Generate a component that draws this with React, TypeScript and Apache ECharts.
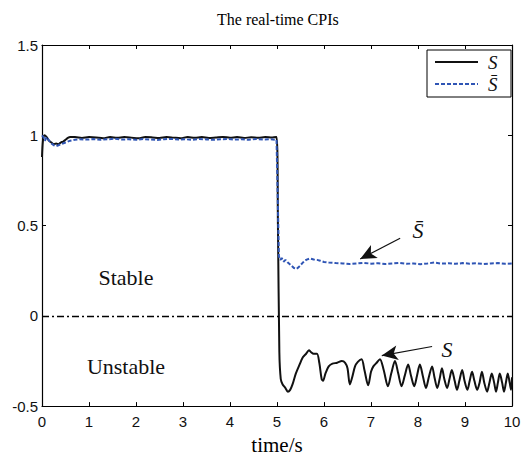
import React, { useEffect, useRef } from "react";
import * as echarts from "echarts";

const xTicks = [0, 1, 2, 3, 4, 5, 6, 7, 8, 9, 10];
const yTicks = [-0.5, 0, 0.5, 1, 1.5];
const seriesNames = ["S", "S\u0304"];

const sData: [number, number][] = [
  [0, 0.88], [0.02, 0.97], [0.05, 1.0], [0.1, 0.99], [0.15, 0.97], [0.2, 0.96], [0.25, 0.95],
  [0.3, 0.955], [0.35, 0.95], [0.4, 0.96], [0.45, 0.965], [0.5, 0.975], [0.55, 0.985], [0.6, 0.99],
  [0.7, 0.99], [0.85, 0.985], [1.0, 0.99], [1.15, 0.988], [1.3, 0.984], [1.45, 0.99], [1.6, 0.986],
  [1.75, 0.99], [1.9, 0.987], [2.05, 0.983], [2.2, 0.99], [2.35, 0.988], [2.5, 0.985], [2.65, 0.99],
  [2.8, 0.987], [2.95, 0.984], [3.1, 0.99], [3.25, 0.986], [3.4, 0.99], [3.55, 0.985], [3.7, 0.988],
  [3.85, 0.991], [4.0, 0.986], [4.15, 0.99], [4.3, 0.985], [4.45, 0.989], [4.6, 0.986], [4.75, 0.99],
  [4.9, 0.988], [4.99, 0.99], [5.02, 0.5], [5.05, -0.2], [5.08, -0.35], [5.12, -0.38], [5.18, -0.4],
  [5.23, -0.42], [5.28, -0.41], [5.33, -0.38], [5.4, -0.32], [5.48, -0.27], [5.55, -0.23], [5.62, -0.21],
  [5.68, -0.19], [5.72, -0.2], [5.78, -0.21], [5.85, -0.21], [5.9, -0.26], [5.95, -0.35], [5.98, -0.36],
  [6.03, -0.32], [6.1, -0.28], [6.18, -0.265], [6.28, -0.26], [6.38, -0.25], [6.45, -0.26], [6.5, -0.29],
  [6.55, -0.38], [6.6, -0.34], [6.66, -0.28], [6.72, -0.255], [6.8, -0.24], [6.86, -0.3], [6.94, -0.385],
  [7.0, -0.31], [7.05, -0.28], [7.12, -0.26], [7.19, -0.24], [7.27, -0.3], [7.36, -0.39], [7.43, -0.32],
  [7.51, -0.25], [7.58, -0.32], [7.65, -0.39], [7.72, -0.33], [7.79, -0.27], [7.85, -0.33], [7.92, -0.39],
  [7.98, -0.33], [8.04, -0.27], [8.1, -0.33], [8.17, -0.4], [8.23, -0.34], [8.3, -0.28], [8.35, -0.34],
  [8.41, -0.4], [8.46, -0.35], [8.51, -0.29], [8.56, -0.35], [8.62, -0.4], [8.67, -0.35], [8.72, -0.3],
  [8.78, -0.36], [8.83, -0.41], [8.88, -0.36], [8.94, -0.3], [8.99, -0.36], [9.05, -0.41], [9.1, -0.36],
  [9.15, -0.31], [9.2, -0.36], [9.26, -0.41], [9.31, -0.37], [9.36, -0.31], [9.41, -0.37], [9.47, -0.42],
  [9.52, -0.37], [9.57, -0.32], [9.62, -0.37], [9.66, -0.42], [9.7, -0.37], [9.74, -0.32], [9.79, -0.37],
  [9.83, -0.42], [9.87, -0.37], [9.91, -0.32], [9.95, -0.37], [9.98, -0.41], [10, -0.34],
];

const sBarData: [number, number][] = [
  [0, 1.0], [0.03, 0.99], [0.06, 0.97], [0.1, 0.99], [0.15, 0.97], [0.2, 0.955], [0.25, 0.945],
  [0.3, 0.94], [0.35, 0.945], [0.4, 0.95], [0.5, 0.96], [0.6, 0.97], [0.7, 0.975], [0.8, 0.978],
  [0.95, 0.976], [1.1, 0.979], [1.25, 0.975], [1.4, 0.978], [1.55, 0.981], [1.7, 0.976], [1.85, 0.978],
  [2.0, 0.975], [2.15, 0.979], [2.3, 0.977], [2.45, 0.974], [2.6, 0.978], [2.75, 0.98], [2.9, 0.976],
  [3.05, 0.978], [3.2, 0.975], [3.35, 0.979], [3.5, 0.977], [3.65, 0.975], [3.8, 0.978], [3.95, 0.98],
  [4.1, 0.976], [4.25, 0.978], [4.4, 0.975], [4.55, 0.979], [4.7, 0.977], [4.85, 0.978], [4.99, 0.975],
  [5.02, 0.6], [5.04, 0.33], [5.07, 0.31], [5.1, 0.32], [5.14, 0.3], [5.18, 0.31], [5.23, 0.295],
  [5.3, 0.28], [5.36, 0.265], [5.42, 0.26], [5.48, 0.275], [5.55, 0.295], [5.62, 0.31], [5.7, 0.318],
  [5.78, 0.312], [5.85, 0.31], [5.92, 0.305], [6.0, 0.298], [6.1, 0.295], [6.25, 0.292], [6.4, 0.29],
  [6.55, 0.287], [6.7, 0.29], [6.85, 0.293], [7.0, 0.289], [7.15, 0.291], [7.3, 0.287], [7.45, 0.29],
  [7.6, 0.293], [7.75, 0.288], [7.9, 0.29], [8.05, 0.286], [8.2, 0.29], [8.35, 0.295], [8.5, 0.289],
  [8.65, 0.291], [8.8, 0.288], [8.95, 0.292], [9.1, 0.289], [9.25, 0.291], [9.4, 0.287], [9.55, 0.29],
  [9.7, 0.292], [9.85, 0.288], [10, 0.29],
];

const arrowSBar: [number, number][] = [[7.62, 0.43], [6.77, 0.315]];
const arrowS: [number, number][] = [[8.3, -0.17], [7.23, -0.22]];

const SANS = "'Liberation Sans', Arial, sans-serif";
const SERIF = "'Liberation Serif', 'Times New Roman', serif";
const BLACK = "#111";
const BLUE = "#2f55b5";

export default function App() {
  const ref = useRef<HTMLDivElement>(null);
  useEffect(() => {
    document.body.style.margin = "0";
    if (!ref.current) return;
    const chart = echarts.init(ref.current, undefined, { renderer: "svg" });
    const tick = { show: true, inside: true, length: 4, lineStyle: { color: "#000" } };
    const line = { show: true, onZero: false, lineStyle: { color: "#000", width: 1.2 } };
    chart.setOption({
      animation: false,
      backgroundColor: "#fff",
      title: {
        text: "The real-time CPIs",
        left: 212,
        top: 6,
        textStyle: { fontFamily: SERIF, fontSize: 16, fontWeight: "normal", color: "#000" },
      },
      grid: { left: 42, right: 14, top: 45, bottom: 47, show: false },
      xAxis: [
        {
          type: "value",
          min: 0,
          max: 10,
          interval: 1,
          position: "bottom",
          name: "time/s",
          nameLocation: "middle",
          nameGap: 22,
          nameTextStyle: { fontFamily: SERIF, fontSize: 21, color: "#000" },
          axisLine: line,
          axisTick: tick,
          axisLabel: { margin: 8, fontFamily: SANS, fontSize: 15, color: "#111", customValues: xTicks },
          splitLine: { show: false },
        },
        {
          type: "value",
          min: 0,
          max: 10,
          interval: 1,
          position: "top",
          axisLine: line,
          axisTick: tick,
          axisLabel: { show: false },
          splitLine: { show: false },
        },
      ],
      yAxis: [
        {
          type: "value",
          min: -0.5,
          max: 1.5,
          interval: 0.5,
          position: "left",
          axisLine: line,
          axisTick: tick,
          axisLabel: { margin: 4, fontFamily: SANS, fontSize: 15, color: "#111", customValues: yTicks },
          splitLine: { show: false },
        },
        {
          type: "value",
          min: -0.5,
          max: 1.5,
          interval: 0.5,
          position: "right",
          axisLine: line,
          axisTick: tick,
          axisLabel: { show: false },
          splitLine: { show: false },
        },
      ],
      series: [
        {
          name: seriesNames[0],
          type: "line",
          data: sData,
          showSymbol: false,
          symbol: "none",
          smooth: 0.3,
          lineStyle: { color: BLACK, width: 2 },
          itemStyle: { color: BLACK },
          markLine: {
            silent: true,
            symbol: "none",
            label: { show: false },
            lineStyle: { color: "#000", width: 1.3, type: [7, 3, 2, 3] },
            data: [{ yAxis: 0 }],
          },
        },
        {
          name: seriesNames[1],
          type: "line",
          data: sBarData,
          showSymbol: false,
          symbol: "none",
          lineStyle: { color: BLUE, width: 2, type: [4, 2] },
          itemStyle: { color: BLUE },
          markLine: {
            silent: true,
            label: { show: false },
            symbol: ["none", "arrow"],
            symbolSize: [11, 16],
            lineStyle: { color: "#111", width: 1.2, type: "solid" },
            itemStyle: { color: "#111" },
            data: [
              [{ coord: arrowSBar[0] }, { coord: arrowSBar[1] }],
              [{ coord: arrowS[0] }, { coord: arrowS[1] }],
            ],
          },
        },
      ],
      graphic: [
        { type: "rect", shape: { x: 427, y: 50, width: 84, height: 47 }, style: { fill: "#fff", stroke: "#000", lineWidth: 1 }, z: 100 },
        { type: "line", shape: { x1: 435, y1: 62, x2: 478, y2: 62 }, style: { stroke: BLACK, lineWidth: 2 }, z: 101 },
        { type: "line", shape: { x1: 435, y1: 84, x2: 478, y2: 84 }, style: { stroke: BLUE, lineWidth: 2, lineDash: [4, 2] }, z: 101 },
        { type: "text", x: 488, y: 62, style: { text: seriesNames[0], font: `italic 19px ${SERIF}`, fill: "#111", align: "left", verticalAlign: "middle" }, z: 101 },
        { type: "text", x: 488, y: 84, style: { text: seriesNames[1], font: `italic 19px ${SERIF}`, fill: "#111", align: "left", verticalAlign: "middle" }, z: 101 },
        { type: "text", x: 126, y: 277, style: { text: "Stable", font: `22px ${SERIF}`, fill: "#111", align: "center", verticalAlign: "middle" } },
        { type: "text", x: 126, y: 366, style: { text: "Unstable", font: `22px ${SERIF}`, fill: "#111", align: "center", verticalAlign: "middle" } },
        { type: "text", x: 418, y: 230, style: { text: "S\u0304", font: `italic 22px ${SERIF}`, fill: "#111", align: "center", verticalAlign: "middle" } },
        { type: "text", x: 447, y: 349, style: { text: "S", font: `italic 22px ${SERIF}`, fill: "#111", align: "center", verticalAlign: "middle" } },
      ],
    });
    return () => chart.dispose();
  }, []);
  return <div ref={ref} style={{ width: 526, height: 460 }} />;
}
